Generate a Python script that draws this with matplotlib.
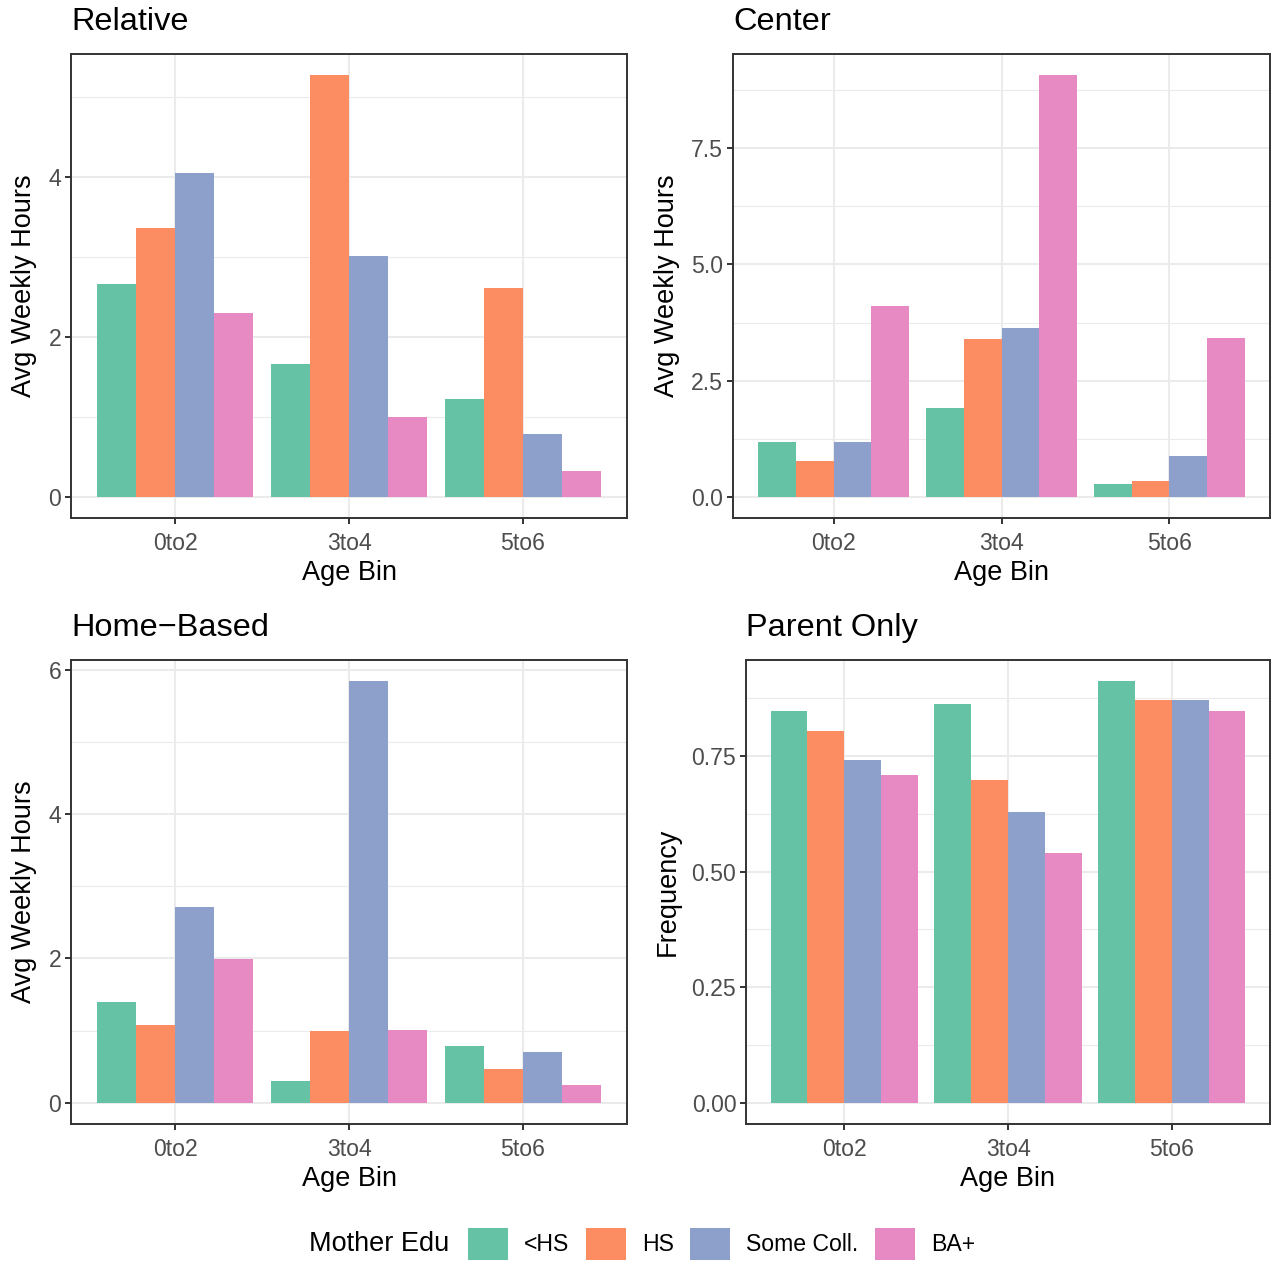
import numpy as np
import matplotlib
matplotlib.use("Agg")
import matplotlib.pyplot as plt
from matplotlib.patches import Patch

plt.rcParams['font.family'] = ['Liberation Sans', 'DejaVu Sans']

# data
age_bins = ["0to2", "3to4", "5to6"]
edu_levels = ["<HS", "HS", "Some Coll.", "BA+"]
edu_colors = ["#66C2A5", "#FC8D62", "#8DA0CB", "#E78AC3"]

relative = [[2.67, 1.66, 1.22],    # <HS
            [3.37, 5.28, 2.61],    # HS
            [4.05, 3.01, 0.79],    # Some Coll.
            [2.30, 1.00, 0.33]]    # BA+
center = [[1.17, 1.92, 0.27],
          [0.78, 3.39, 0.34],
          [1.19, 3.63, 0.89],
          [4.10, 9.07, 3.41]]
home_based = [[1.40, 0.31, 0.79],
              [1.08, 1.00, 0.47],
              [2.71, 5.84, 0.71],
              [1.99, 1.01, 0.25]]
parent_only = [[0.848, 0.863, 0.912],
               [0.805, 0.699, 0.871],
               [0.742, 0.628, 0.871],
               [0.708, 0.540, 0.848]]

W, H = 1276, 1264
fig = plt.figure(figsize=(W / 100, H / 100), dpi=100)

BASE = 19.5
TICK = 16.6
GRID = "#EBEBEB"
DARK = "#333333"


def panel(box, title, data, ylabel, major, fmt):
    l, t, r, b = box
    ax = fig.add_axes([l / W, 1 - b / H, (r - l) / W, (b - t) / H])
    data = np.array(data)
    x = np.arange(1, len(age_bins) + 1)
    bw = 0.9 / len(edu_levels)
    for i, (lev, col) in enumerate(zip(edu_levels, edu_colors)):
        off = (i - (len(edu_levels) - 1) / 2) * bw
        ax.bar(x + off, data[i], width=bw, color=col, linewidth=0, zorder=3)

    top = data.max()
    pad = 0.05 * top
    ax.set_ylim(-pad, top + pad)
    ax.set_xlim(0.4, 3.6)

    step = major[1] - major[0]
    ax.set_yticks(major)
    ax.set_yticklabels([fmt.format(v) for v in major])
    minor = np.arange(major[0] + step / 2, top + pad, step)
    ax.set_yticks(minor, minor=True)
    ax.set_xticks(x)
    ax.set_xticklabels(age_bins)

    ax.grid(True, which='major', color=GRID, linewidth=1.5, zorder=0)
    ax.grid(True, which='minor', axis='y', color=GRID, linewidth=0.8, zorder=0)
    ax.set_axisbelow(True)
    for s in ax.spines.values():
        s.set_color(DARK)
        s.set_linewidth(1.4)
    ax.tick_params(which='major', length=4, width=1.4, color=DARK,
                   labelsize=TICK, labelcolor="#4D4D4D")
    ax.tick_params(axis='x', which='major', pad=6)
    ax.tick_params(axis='y', which='major', pad=3)
    ax.tick_params(which='minor', length=0)

    ax.set_xlabel("Age Bin", fontsize=BASE, labelpad=4)
    ax.set_ylabel(ylabel, fontsize=BASE, labelpad=8)
    ax.set_title(title, fontsize=BASE * 1.2, loc='left', pad=17)
    return ax


panel((71, 54, 627, 518), "Relative", relative, "Avg Weekly Hours",
      [0, 2, 4], "{:g}")
panel((733, 54, 1270, 518), "Center", center, "Avg Weekly Hours",
      [0, 2.5, 5, 7.5], "{:.1f}")
panel((71, 660, 627, 1124), "Home\u2212Based", home_based, "Avg Weekly Hours",
      [0, 2, 4, 6], "{:g}")
panel((746, 660, 1270, 1124), "Parent Only", parent_only, "Frequency",
      [0, 0.25, 0.5, 0.75], "{:.2f}")

# legend at the bottom
fig.text(309 / W, 1 - 1244 / H, "Mother Edu", fontsize=BASE,
         ha='left', va='center')
handles = [Patch(facecolor=c, edgecolor='none', label=l)
           for l, c in zip(edu_levels, edu_colors)]
fig.legend(handles=handles, loc='center left',
           bbox_to_anchor=(468 / W, 1 - 1244 / H), ncol=4, frameon=False,
           fontsize=TICK, handlelength=1.73, handleheight=1.73,
           handletextpad=0.7, columnspacing=0.72, borderpad=0, borderaxespad=0)

fig.savefig("out.png", dpi=100)
